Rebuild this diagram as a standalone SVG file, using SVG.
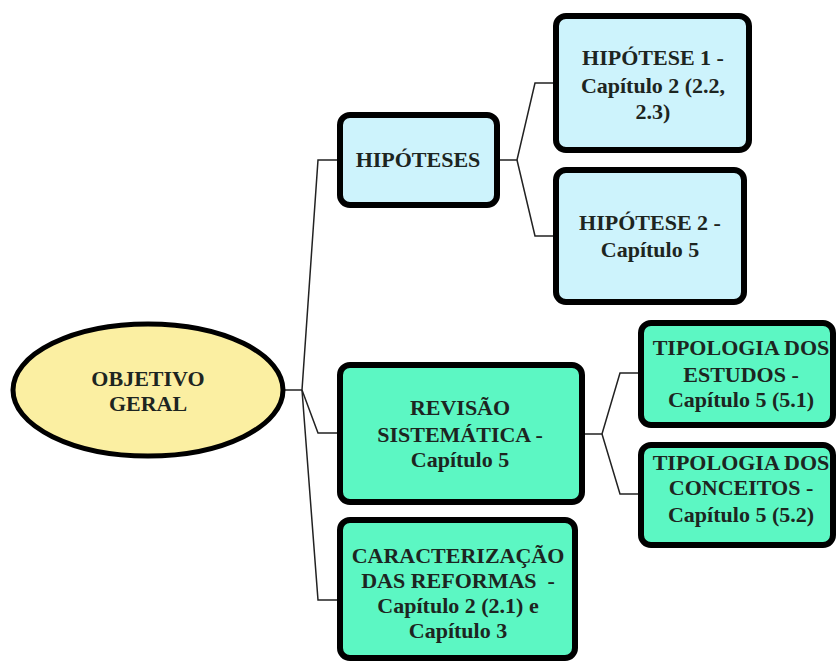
<svg xmlns="http://www.w3.org/2000/svg" width="836" height="663" viewBox="0 0 836 663">
  <style>
    .box { stroke: #000; stroke-width: 6; }
    .blue { fill: #cdf3fc; }
    .green { fill: #5cf7c3; }
    .root { fill: #fbefa2; stroke: #000; stroke-width: 5; }
    .lbl { font-weight: bold; font-size: 22px; fill: #1d2521; text-anchor: middle; white-space: pre; }
    .wire { fill: none; stroke: #222; stroke-width: 1.5; }
  </style>
  <rect width="836" height="663" fill="#ffffff"/>

  <!-- connectors -->
  <g id="connectors">
    <path class="wire" d="M283,390 H302"/>
    <path class="wire" d="M302,390 L318,160 H337"/>
    <path class="wire" d="M302,390 L318,433 H337"/>
    <path class="wire" d="M302,390 L318,600 H337"/>
    <path class="wire" d="M500,160 H517 L535,83 H553"/>
    <path class="wire" d="M517,160 L535,236 H553"/>
    <path class="wire" d="M585,434 H602 L620,373 H638"/>
    <path class="wire" d="M602,434 L620,494 H638"/>
  </g>

  <g font-family="'Liberation Serif', Tinos, 'Times New Roman', 'DejaVu Serif', 'Noto Serif', Times, serif">
  <g id="objetivo-geral">
    <ellipse class="root" cx="148" cy="390" rx="135" ry="66"/>
    <text class="lbl"><tspan x="148" y="386">OBJETIVO</tspan><tspan x="148" y="411">GERAL</tspan></text>
  </g>

  <g id="hipoteses">
    <rect class="box blue" x="340" y="115" width="157" height="90" rx="10"/>
    <text class="lbl"><tspan x="418" y="167">HIPÓTESES</tspan></text>
  </g>

  <g id="hipotese-1">
    <rect class="box blue" x="556" y="16" width="193" height="134" rx="10"/>
    <text class="lbl"><tspan x="653" y="65">HIPÓTESE 1 -</tspan><tspan x="653" y="93">Capítulo 2 (2.2,</tspan><tspan x="653" y="119">2.3)</tspan></text>
  </g>

  <g id="hipotese-2">
    <rect class="box blue" x="556" y="170" width="188" height="132" rx="10"/>
    <text class="lbl"><tspan x="650" y="230">HIPÓTESE 2 -</tspan><tspan x="650" y="257">Capítulo 5</tspan></text>
  </g>

  <g id="revisao-sistematica">
    <rect class="box green" x="340" y="365" width="242" height="137" rx="10"/>
    <text class="lbl"><tspan x="460" y="415">REVISÃO</tspan><tspan x="460" y="442">SISTEMÁTICA -</tspan><tspan x="460" y="467">Capítulo 5</tspan></text>
  </g>

  <g id="caracterizacao-reformas">
    <rect class="box green" x="340" y="520" width="235" height="138" rx="10"/>
    <text class="lbl"><tspan x="458" y="563">CARACTERIZAÇÃO</tspan><tspan x="458" y="588">DAS REFORMAS  -</tspan><tspan x="458" y="613">Capítulo 2 (2.1) e</tspan><tspan x="458" y="638">Capítulo 3</tspan></text>
  </g>

  <g id="tipologia-estudos">
    <rect class="box green" x="641" y="323" width="192" height="102" rx="10"/>
    <text class="lbl"><tspan x="741" y="355">TIPOLOGIA DOS</tspan><tspan x="741" y="382">ESTUDOS -</tspan><tspan x="741" y="407">Capítulo 5 (5.1)</tspan></text>
  </g>

  <g id="tipologia-conceitos">
    <rect class="box green" x="641" y="445" width="192" height="100" rx="10"/>
    <text class="lbl"><tspan x="741" y="470">TIPOLOGIA DOS</tspan><tspan x="741" y="495">CONCEITOS -</tspan><tspan x="741" y="522">Capítulo 5 (5.2)</tspan></text>
  </g>
  </g>
</svg>
